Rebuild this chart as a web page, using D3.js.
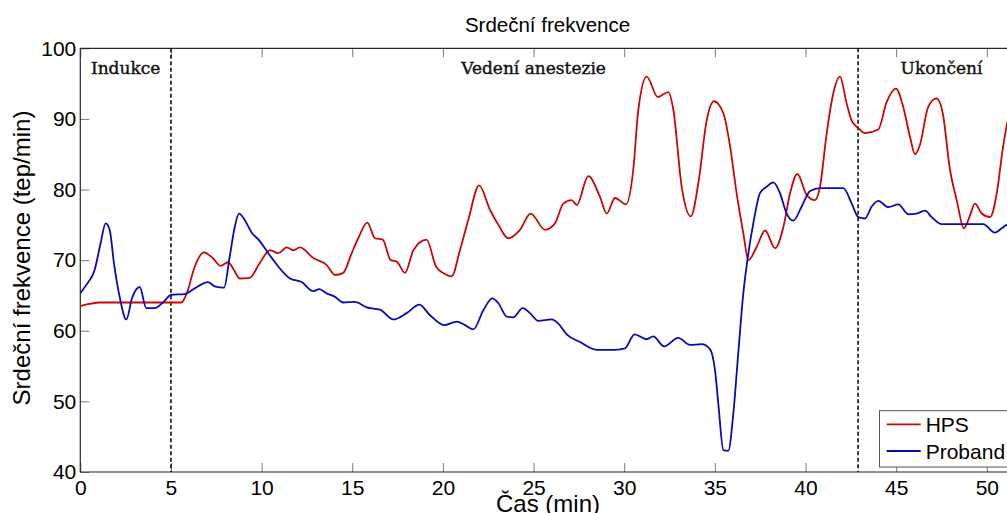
<!DOCTYPE html>
<html>
<head>
<meta charset="utf-8">
<script src="https://cdn.jsdelivr.net/npm/d3@7"></script>
<style>
  html, body { margin: 0; padding: 0; background: #fff; overflow: hidden; }
  svg { display: block; }
</style>
</head>
<body>
<svg id="chart" width="1007" height="513"></svg>
<script>
// Heart rate over time during anaesthesia: HPS simulator vs. volunteer (Proband)
const hpsTime = [0, 0.5, 1.1, 5.57, 5.9, 6.3, 6.82, 7.3, 7.74, 8.15, 8.5, 8.79, 9.34, 9.9, 10.46, 10.92, 11.38, 11.75, 12.12, 12.85,
  13.59, 14.05, 14.5, 14.97, 15.33, 15.83, 16.25, 16.68, 17.12, 17.45, 17.91, 18.37, 19.1, 19.62, 20.0, 20.48, 20.94, 21.4, 22.0, 22.6,
  23.06, 23.6, 24.25, 24.84, 25.63, 26.18, 26.64, 27.1, 27.38, 28.02, 28.66, 29.04, 29.49, 30.1, 30.5, 30.78, 31.24, 31.85, 32.43, 32.71,
  33.17, 33.67, 34.09, 34.55, 34.95, 35.47, 35.84, 36.2, 36.57, 36.85, 37.31, 37.77, 38.32, 38.78, 39.15, 39.55, 40.07, 40.52, 40.8, 41.17,
  41.53, 41.9, 42.27, 42.54, 42.91, 43.28, 44.01, 44.48, 44.99, 45.39, 45.76, 46.04, 46.31, 46.77, 47.23, 47.57, 47.97, 48.34, 48.74, 49.04,
  49.35, 49.72, 50.18, 50.55, 50.9, 51.13, 51.5];
const hpsRate = [63.5, 63.8, 64.0, 64.0, 65.5, 69.0, 71.1, 70.3, 69.2, 69.7, 68.5, 67.4, 67.5, 69.6, 71.4, 71.0, 71.8, 71.4, 71.8, 70.3,
  69.3, 67.9, 68.2, 71.0, 73.1, 75.3, 73.1, 72.9, 70.0, 69.8, 68.2, 71.4, 72.9, 69.1, 68.2, 67.7, 71.4, 75.7, 80.6, 77.1,
  75.0, 73.1, 74.3, 76.6, 74.3, 75.2, 78.0, 78.5, 77.8, 81.9, 79.0, 76.6, 78.8, 77.9, 82.8, 91.3, 96.0, 93.1, 93.8, 91.3,
  80.4, 76.2, 80.9, 89.8, 92.5, 90.8, 86.1, 79.5, 73.8, 70.0, 71.9, 74.2, 71.7, 74.7, 79.5, 82.2, 79.2, 78.5, 80.4, 88.0,
  93.6, 96.0, 92.2, 89.8, 88.7, 88.0, 88.5, 92.4, 94.3, 91.7, 87.5, 85.0, 86.3, 91.7, 92.9, 90.8, 82.8, 78.5, 74.5, 76.1,
  78.0, 76.6, 76.1, 79.5, 86.1, 89.4, 92.0];

const probandTime = [0, 0.33, 0.79, 1.12, 1.4, 1.62, 1.86, 2.17, 2.54, 2.85, 3.28, 3.64, 4.1, 4.56, 5.02, 5.76, 6.31, 7.04, 7.41, 7.93,
  8.24, 8.52, 8.75, 9.07, 9.43, 9.9, 10.31, 10.65, 11.57, 12.21, 12.85, 13.18, 13.59, 14.05, 14.5, 15.15, 15.8, 16.53, 17.26, 18.0,
  18.7, 19.29, 20.07, 20.76, 21.22, 21.68, 22.23, 22.72, 23.06, 23.52, 23.88, 24.4, 24.8, 25.26, 26.0, 26.37, 26.83, 27.56, 28.48, 29.49,
  30.04, 30.57, 31.24, 31.6, 32.2, 32.98, 33.63, 34.27, 34.73, 35.01, 35.19, 35.47, 35.74, 36.02, 36.29, 36.57, 36.85, 37.12, 37.49, 37.86,
  38.22, 38.59, 38.96, 39.33, 39.79, 40.25, 40.8, 42.09, 42.55, 42.91, 43.28, 43.65, 44.01, 44.57, 45.12, 45.67, 46.13, 46.59, 46.96, 47.51,
  49.8, 50.45, 50.82, 51.1, 51.5];
const probandRate = [65.3, 66.5, 68.6, 72.4, 75.2, 74.3, 69.5, 64.8, 61.6, 64.6, 66.2, 63.2, 63.2, 64.0, 65.1, 65.2, 66.0, 66.9, 66.3, 66.1,
  70.5, 74.7, 76.6, 75.7, 74.0, 72.7, 71.2, 70.0, 67.4, 66.9, 65.6, 65.9, 65.3, 64.8, 64.0, 64.1, 63.3, 63.0, 61.6, 62.5,
  63.7, 62.2, 60.8, 61.3, 60.8, 60.2, 62.9, 64.6, 63.9, 62.0, 61.9, 63.2, 62.5, 61.4, 61.6, 61.0, 59.5, 58.4, 57.3, 57.3,
  57.5, 59.5, 58.8, 59.2, 57.8, 59.0, 58.0, 58.1, 57.4, 54.4, 49.7, 43.1, 43.0, 48.3, 56.8, 65.3, 71.0, 75.2, 79.5, 80.4,
  81.0, 79.5, 76.6, 75.6, 77.6, 79.8, 80.2, 80.2, 78.0, 76.1, 75.9, 77.6, 78.4, 77.5, 77.9, 76.5, 76.6, 77.0, 76.1, 75.1,
  75.1, 73.9, 74.5, 75.0, 75.3];

// Phase boundaries and phase captions
const phaseBounds = [5, 42.9];
const phaseNames = ["Indukce", "Vedení anestezie", "Ukončení"];
const phaseLabelTime = [2.5, 25.0, 47.5];

const xTicks = [0, 5, 10, 15, 20, 25, 30, 35, 40, 45, 50];
const yTicks = [40, 50, 60, 70, 80, 90, 100];

const seriesNames = ["HPS", "Proband"];
const seriesColors = ["#c80808", "#0a0ab4"];

const svg = d3.select("#chart");
const plotLeft = 80.3, plotRight = 1014, plotTop = 48.3, plotBottom = 472;

const x = d3.scaleLinear().domain([0, 51.5]).range([plotLeft, plotRight]);
const y = d3.scaleLinear().domain([40, 100]).range([plotBottom, plotTop]);

svg.append("defs").append("clipPath").attr("id", "plotClip")
  .append("rect").attr("x", plotLeft).attr("y", plotTop)
  .attr("width", plotRight - plotLeft).attr("height", plotBottom - plotTop);

// Axes with inward-pointing ticks
const tickFont = "Liberation Sans, Arial, sans-serif";
const gx = svg.append("g").attr("transform", `translate(0,${plotBottom})`)
  .call(d3.axisBottom(x).tickValues(xTicks).tickFormat(d3.format("d")).tickSizeInner(-9).tickSizeOuter(0).tickPadding(8));
const gxTop = svg.append("g").attr("transform", `translate(0,${plotTop})`)
  .call(d3.axisTop(x).tickValues(xTicks).tickFormat("").tickSizeInner(-9).tickSizeOuter(0));
const gy = svg.append("g").attr("transform", `translate(${plotLeft},0)`)
  .call(d3.axisLeft(y).tickValues(yTicks).tickFormat(d3.format("d")).tickSizeInner(-9).tickSizeOuter(0).tickPadding(4));

[gx, gxTop, gy].forEach(g => {
  g.select(".domain").remove();
  g.selectAll(".tick line").attr("stroke", "#7a7a7a").attr("stroke-width", 1);
  g.selectAll(".tick text").attr("fill", "#000").style("font-family", tickFont).style("font-size", "21px");
});

// Box lines (left, bottom, top)
const box = svg.append("g").attr("stroke", "#262626").attr("stroke-width", 1.2).attr("fill", "none");
box.append("line").attr("x1", plotLeft).attr("x2", plotLeft).attr("y1", plotTop).attr("y2", plotBottom);
box.append("line").attr("x1", plotLeft).attr("x2", plotRight).attr("y1", plotBottom).attr("y2", plotBottom);
box.append("line").attr("x1", plotLeft).attr("x2", plotRight).attr("y1", plotTop).attr("y2", plotTop);

// Phase separators
svg.append("g").selectAll("line").data(phaseBounds).join("line")
  .attr("x1", d => x(d)).attr("x2", d => x(d))
  .attr("y1", plotTop).attr("y2", plotBottom)
  .attr("stroke", "#111").attr("stroke-width", 1.6).attr("stroke-dasharray", "4,2.5");

// Series lines
const line = d3.line().x(d => x(d[0])).y(d => y(d[1])).curve(d3.curveMonotoneX);
const series = [
  d3.zip(hpsTime, hpsRate),
  d3.zip(probandTime, probandRate)
];
svg.append("g").attr("clip-path", "url(#plotClip)")
  .selectAll("path").data(series).join("path")
  .attr("d", line)
  .attr("fill", "none")
  .attr("stroke", (d, i) => seriesColors[i])
  .attr("stroke-width", 1.8)
  .attr("stroke-linejoin", "round");

// Phase captions (slightly heavier serif)
svg.append("g").selectAll("text").data(phaseNames).join("text")
  .attr("x", (d, i) => x(phaseLabelTime[i]))
  .attr("y", 73.5)
  .attr("text-anchor", "middle")
  .style("font-family", "DejaVu Serif, serif")
  .style("font-size", "17px")
  .attr("fill", "#111")
  .attr("stroke", "#111")
  .attr("stroke-width", 0.4)
  .text(d => d);

// Title and axis labels
svg.append("text").attr("x", 547.5).attr("y", 31.5).attr("text-anchor", "middle")
  .style("font-family", tickFont).style("font-size", "20.5px").attr("fill", "#000")
  .text("Srdeční frekvence");
svg.append("text").attr("x", 548).attr("y", 511.5).attr("text-anchor", "middle")
  .style("font-family", tickFont).style("font-size", "24px").attr("fill", "#000")
  .text("Čas (min)");
svg.append("text").attr("transform", "translate(30,258) rotate(-90)").attr("text-anchor", "middle")
  .style("font-family", tickFont).style("font-size", "24px").attr("fill", "#000")
  .text("Srdeční frekvence (tep/min)");

// Legend
const legend = svg.append("g").attr("transform", "translate(879.5,410.7)");
legend.append("rect").attr("width", 200).attr("height", 56.3)
  .attr("fill", "#fff").attr("stroke", "#555").attr("stroke-width", 1);
const items = legend.selectAll("g.item").data(seriesNames).join("g")
  .attr("class", "item")
  .attr("transform", (d, i) => `translate(0,${13.6 + i * 26.7})`);
items.append("line").attr("x1", 7.2).attr("x2", 41.2).attr("y1", 0).attr("y2", 0)
  .attr("stroke", (d, i) => seriesColors[i]).attr("stroke-width", 1.8);
items.append("text").attr("x", 46.2).attr("y", 7.5)
  .style("font-family", tickFont).style("font-size", "21px").attr("fill", "#000")
  .text(d => d);
</script>
</body>
</html>
